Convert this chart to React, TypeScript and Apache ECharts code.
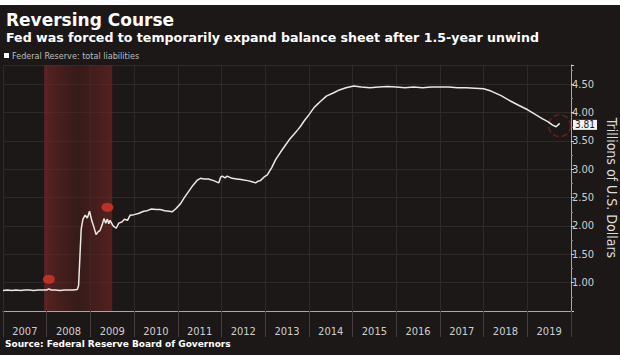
import React, { useEffect, useRef } from "react";
import * as echarts from "echarts";

const YEARS = ["2007", "2008", "2009", "2010", "2011", "2012", "2013", "2014", "2015", "2016", "2017", "2018", "2019"];

const DATES = [
  2007.0, 2007.1, 2007.2, 2007.3, 2007.4, 2007.5, 2007.6, 2007.7, 2007.8, 2007.9,
  2008.0, 2008.05, 2008.1, 2008.2, 2008.3, 2008.4, 2008.5, 2008.6, 2008.7, 2008.73,
  2008.76, 2008.79, 2008.83, 2008.88, 2008.93, 2008.98, 2009.03, 2009.08, 2009.13, 2009.18,
  2009.22, 2009.27, 2009.31, 2009.35, 2009.39, 2009.42, 2009.45, 2009.52, 2009.59, 2009.65,
  2009.72, 2009.78, 2009.85, 2009.91, 2010.0, 2010.1, 2010.22, 2010.3, 2010.4, 2010.5,
  2010.6, 2010.7, 2010.8, 2010.87, 2010.95, 2011.06, 2011.15, 2011.25, 2011.35, 2011.45,
  2011.52, 2011.6, 2011.7, 2011.82, 2011.94, 2011.98, 2012.02, 2012.08, 2012.13, 2012.24,
  2012.35, 2012.45, 2012.51, 2012.6, 2012.7, 2012.78, 2012.84, 2012.89, 2012.97, 2013.05,
  2013.15, 2013.24, 2013.35, 2013.45, 2013.55, 2013.65, 2013.75, 2013.81, 2013.9, 2014.0,
  2014.11, 2014.2, 2014.27, 2014.4, 2014.57, 2014.7, 2014.85, 2015.03, 2015.2, 2015.4,
  2015.6, 2015.8, 2016.0, 2016.2, 2016.4, 2016.6, 2016.8, 2017.0, 2017.2, 2017.4,
  2017.6, 2017.8, 2018.0, 2018.17, 2018.4, 2018.6, 2018.8, 2019.01, 2019.2, 2019.35,
  2019.47, 2019.58, 2019.66, 2019.74,
];

const LIABILITIES = [
  0.86, 0.87, 0.86, 0.87, 0.86, 0.87, 0.87, 0.86, 0.87, 0.87,
  0.87, 0.89, 0.87, 0.87, 0.86, 0.87, 0.87, 0.87, 0.88, 0.95,
  1.45, 1.95, 2.12, 2.19, 2.14, 2.26, 2.1, 1.98, 1.85, 1.9,
  1.92, 2.02, 2.13, 2.05, 2.12, 2.04, 2.1, 2.0, 1.96, 2.05,
  2.07, 2.12, 2.1, 2.19, 2.2, 2.22, 2.26, 2.27, 2.3, 2.29,
  2.29, 2.27, 2.26, 2.25, 2.3, 2.39, 2.5, 2.61, 2.72, 2.81,
  2.84, 2.83, 2.83, 2.8, 2.76, 2.86, 2.88, 2.85, 2.88, 2.84,
  2.83, 2.82, 2.81, 2.8, 2.78, 2.76, 2.79, 2.8, 2.86, 2.9,
  3.03, 3.17, 3.3, 3.41, 3.52, 3.61, 3.7, 3.76, 3.86, 3.96,
  4.08, 4.15, 4.2, 4.29, 4.35, 4.4, 4.44, 4.47, 4.45, 4.44,
  4.45, 4.46, 4.45, 4.44, 4.45, 4.44, 4.45, 4.45, 4.45, 4.44,
  4.44, 4.43, 4.42, 4.38, 4.3, 4.21, 4.13, 4.05, 3.96, 3.89,
  3.84, 3.78, 3.75, 3.81,
];

const RECESSION = [2007.94, 2009.5];
const EVENT_DATES = [2008.05, 2009.39];
const EVENT_VALUES = [1.06, 2.33];
const LAST_LABEL = "3.81";

const SERIES_NAME = "Federal Reserve: total liabilities";
const TITLE = "Reversing Course";
const SUBTITLE = "Fed was forced to temporarily expand balance sheet after 1.5-year unwind";
const SOURCE = "Source: Federal Reserve Board of Governors";
const Y_NAME = "Trillions of U.S. Dollars";

const BG = "#1b1817";
const NARROW = "'DejaVu Sans Condensed', 'Liberation Sans Narrow', 'DejaVu Sans', sans-serif";
const WIDE = "'DejaVu Sans', sans-serif";

export default function App() {
  const ref = useRef<HTMLDivElement>(null);

  useEffect(() => {
    if (!ref.current) return;
    const chart = echarts.init(ref.current, null, { renderer: "svg" });
    const lineData = DATES.map((d, i) => [d, LIABILITIES[i]]);
    const last = lineData[lineData.length - 1];
    const eventData = EVENT_DATES.map((d, i) => [d, EVENT_VALUES[i]]);

    chart.setOption({
      animation: false,
      backgroundColor: BG,
      title: {
        text: TITLE,
        subtext: SUBTITLE,
        left: 1,
        top: 6,
        itemGap: 3,
        textStyle: { color: "#ffffff", fontSize: 17, fontWeight: "bold", fontFamily: WIDE },
        subtextStyle: { color: "#ffffff", fontSize: 12.6, fontWeight: "bold", fontFamily: WIDE },
      },
      legend: {
        left: 4,
        top: 51,
        padding: 0,
        itemWidth: 5,
        itemHeight: 5,
        itemGap: 4,
        icon: "rect",
        data: [{ name: SERIES_NAME, itemStyle: { color: "#ffffff" } }],
        textStyle: { color: "#bdbdbd", fontSize: 9, fontFamily: NARROW, padding: [0, 0, 0, -2] },
      },
      grid: { left: 3, right: 49, top: 65, bottom: 44, containLabel: false, outerBoundsMode: "none" },
      xAxis: [
        {
          type: "value",
          min: 2007,
          max: 2020,
          show: false,
        },
        {
          type: "category",
          data: YEARS,
          position: "bottom",
          boundaryGap: true,
          axisLine: { show: true, lineStyle: { color: "#a9a6a3", width: 1 } },
          axisTick: { show: true, length: 26, lineStyle: { color: "#45403d" } },
          axisLabel: { color: "#cfcfcf", fontSize: 11, fontFamily: NARROW, margin: 15 },
          splitLine: { show: true, lineStyle: { color: "#2e2a28", width: 1 } },
        },
      ],
      yAxis: {
        type: "value",
        position: "right",
        min: 0.5,
        max: 4.84,
        interval: 0.5,
        name: Y_NAME,
        nameLocation: "middle",
        nameRotate: -90,
        nameGap: 32,
        nameTextStyle: { color: "#dcdcdc", fontSize: 14, fontFamily: NARROW },
        axisLine: { show: true, lineStyle: { color: "#a9a6a3", width: 1 } },
        axisTick: { show: true, length: 3, lineStyle: { color: "#cfcfcf" } },
        minorTick: { show: true, splitNumber: 2, length: 2, lineStyle: { color: "#8a8683" } },
        axisLabel: {
          color: "#cfcfcf",
          fontSize: 11,
          lineHeight: 11,
          fontFamily: NARROW,
          margin: 1,
          showMaxLabel: false,
          formatter: (v: number) => (v < 0.9 ? "" : v.toFixed(2)),
        },
        splitLine: { show: true, lineStyle: { color: "#2e2a28", width: 1 } },
      },
      series: [
        {
          name: SERIES_NAME,
          type: "line",
          xAxisIndex: 0,
          data: lineData,
          showSymbol: false,
          symbol: "none",
          lineStyle: { color: "#ece8e3", width: 1.5 },
          itemStyle: { color: "#ffffff" },
          z: 5,
          markArea: {
            silent: true,
            itemStyle: {
              color: new echarts.graphic.LinearGradient(0, 0, 1, 0, [
                { offset: 0, color: "rgba(125,40,38,0.62)" },
                { offset: 0.5, color: "rgba(80,30,28,0.5)" },
                { offset: 1, color: "rgba(120,38,36,0.62)" },
              ]),
            },
            data: [[{ xAxis: RECESSION[0] }, { xAxis: RECESSION[1] }]],
          },
          markLine: {
            silent: true,
            symbol: "none",
            lineStyle: { color: "rgba(0,0,0,0)", width: 0 },
            label: {
              show: true,
              position: "end",
              distance: 2,
              offset: [0, 1.5],
              formatter: LAST_LABEL,
              backgroundColor: "#f2f2f2",
              color: "#1a1a1a",
              fontSize: 10,
              lineHeight: 10,
              fontFamily: NARROW,
              padding: [0, 2, 0, 2],
            },
            z: 10,
            data: [{ yAxis: Number(LAST_LABEL) }],
          },
        },
        {
          name: "events",
          type: "scatter",
          xAxisIndex: 0,
          data: eventData,
          symbol: "circle",
          symbolSize: [12, 9],
          itemStyle: { color: "#d8352b" },
          silent: true,
          z: 6,
        },
        {
          name: "latest",
          type: "scatter",
          xAxisIndex: 0,
          data: [[last[0], (last[1] as number) - 0.04]],
          symbol: "circle",
          symbolSize: 22,
          itemStyle: {
            color: "rgba(0,0,0,0)",
            borderColor: "#7e2320",
            borderWidth: 1.5,
            borderType: "dashed",
          },
          silent: true,
          z: 4,
        },
      ],
      graphic: [
        { type: "rect", left: 0, top: 0, shape: { width: 620, height: 5 }, style: { fill: "#ffffff" }, silent: true },
        {
          type: "text",
          left: 5,
          top: 339,
          style: { text: SOURCE, fill: "#ffffff", font: `bold 9px ${WIDE}` },
          silent: true,
        },
      ],
    });

    return () => chart.dispose();
  }, []);

  return (
    <div
      ref={ref}
      style={{ position: "fixed", left: 0, top: 0, width: 620, height: 355 }}
    />
  );
}
